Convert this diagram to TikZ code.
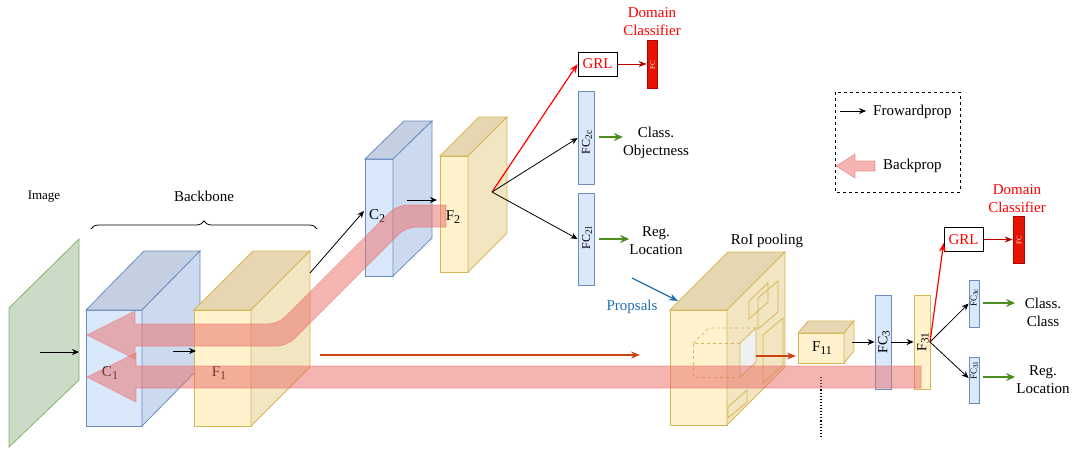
\documentclass[tikz,border=0pt]{standalone}
\usepackage{fontspec}
\setmainfont{Liberation Serif}
\usetikzlibrary{arrows.meta,decorations.pathreplacing,calc}
\definecolor{bfront}{HTML}{DAE8FC}
\definecolor{btop}{HTML}{C4D0E2}
\definecolor{bside}{HTML}{CCDAF0}
\definecolor{bstroke}{HTML}{6C8EBF}
\definecolor{yfront}{HTML}{FFF2CC}
\definecolor{ytop}{HTML}{E6D7B2}
\definecolor{yside}{HTML}{F2E5C1}
\definecolor{ystroke}{HTML}{D6B656}
\definecolor{gfill}{HTML}{CADCC7}
\definecolor{gstroke}{HTML}{82B366}
\definecolor{bandc}{HTML}{EA6B66}
\definecolor{garrow}{HTML}{4D8C1F}
\definecolor{oarrow}{HTML}{CC4414}
\definecolor{parrow}{HTML}{1F6FB2}
\definecolor{fcred}{HTML}{E51400}
\definecolor{fcredst}{HTML}{B20000}
\newcommand\sbs[1]{\raisebox{-0.35ex}{\scalebox{0.8}{#1}}}
\tikzset{
 lbl/.style={font=\fontsize{15}{18}\selectfont, inner sep=0pt, align=center},
 fwd/.style={-{Stealth[length=7pt,width=6pt]}, line width=0.8pt, black},
 grn/.style={-{Stealth[length=9pt,width=8pt]}, line width=1.2pt, garrow},
 redarr/.style={-{Stealth[length=9pt,width=7pt]}, line width=1.2pt, red},
 darkred/.style={-{Stealth[length=8pt,width=6pt]}, line width=0.9pt, fcredst},
 orarr/.style={-{Stealth[length=9pt,width=7pt]}, line width=1.2pt, oarrow},
 band/.style={fill=bandc, fill opacity=0.5, draw=bandc, draw opacity=0.6, line width=0.6pt},
 cbfront/.style={fill=bfront, draw=bstroke, line width=0.8pt},
 cbtop/.style={fill=btop, draw=bstroke, line width=0.8pt},
 cbside/.style={fill=bside, draw=bstroke, line width=0.8pt},
 cyfront/.style={fill=yfront, draw=ystroke, line width=0.8pt},
 cytop/.style={fill=ytop, draw=ystroke, line width=0.8pt},
 cyside/.style={fill=yside, draw=ystroke, line width=0.8pt},
 bbar/.style={fill=bfront, draw=bstroke, line width=0.8pt, inner sep=0pt},
 ybar/.style={fill=yfront, draw=ystroke, line width=0.8pt, inner sep=0pt},
 rbar/.style={fill=fcred, draw=fcredst, line width=0.8pt, inner sep=0pt},
 grl/.style={draw=black, line width=0.8pt, fill=white, text=red, minimum width=39pt, minimum height=24pt, inner sep=0pt, font=\fontsize{15}{18}\selectfont},
}
\newcommand\mycube[7]{%
 \filldraw[#1front] (#2,#3) rectangle (#4,#5);
 \filldraw[#1top] (#2,#3) -- (#2+#6,#3-#7) -- (#4+#6,#3-#7) -- (#4,#3) -- cycle;
 \filldraw[#1side] (#4,#3) -- (#4+#6,#3-#7) -- (#4+#6,#5-#7) -- (#4,#5) -- cycle;
}
\begin{document}
\begin{tikzpicture}[x=1pt,y=-1pt]
\useasboundingbox (0,0) rectangle (1075,448);

% image plane
\filldraw[fill=gfill, draw=gstroke, line width=0.8pt] (9,308) -- (79,239) -- (79,380) -- (9,447) -- cycle;
\node[lbl, font=\fontsize{13}{16}\selectfont] (imglbl) at (44,197) {Image};
\node[lbl] (bblbl) at (204,196) {Backbone};
\draw[decorate, decoration={brace, amplitude=8pt}, line width=0.8pt] (91,229) -- (317,229);

% cubes
\mycube{cb}{86}{310}{142}{426}{58}{59}
\mycube{cy}{194}{310}{251}{426}{59}{59}
\mycube{cb}{365}{159}{393}{276}{39}{38}
\mycube{cy}{440}{156}{468}{272}{39}{39}
\mycube{cy}{670}{310}{727}{425}{58}{58}

% RoI inner details
\draw[ystroke, line width=0.8pt] (749,301) -- (768,283) -- (768,302) -- (749,319) -- cycle;
\draw[ystroke, line width=0.8pt] (758,298) -- (778,281) -- (778,312) -- (758,329) -- cycle;
\draw[ystroke, line width=0.8pt] (763,335) -- (783,318) -- (783,365) -- (763,383) -- cycle;
\draw[ystroke, line width=0.8pt] (728,407) -- (747,390) -- (747,402) -- (728,418) -- cycle;
\draw[ystroke, line width=0.8pt, dashed] (740,343) -- (693,343) -- (693,377) -- (740,377);
\draw[ystroke, line width=0.8pt, dashed] (693,343) -- (709,328) -- (756,328);
\filldraw[fill=white!94!black, draw=ystroke, line width=0.8pt] (740,343) -- (756,328) -- (756,362) -- (740,377) -- cycle;

\mycube{cy}{798}{333}{844}{363}{10}{12}

% labels of cubes
\node[lbl] (c1) at (110,373) {C\sbs{1}};
\node[lbl] (f1) at (219,373) {F\sbs{1}};
\node[lbl] (c2) at (377,216) {C\sbs{2}};
\node[lbl] (f2) at (453,217) {F\sbs{2}};
\node[lbl] (f11) at (822,348) {F\sbs{11}};
\node[lbl] (roi) at (767,241) {RoI pooling};
\node[lbl, text=parrow] (prop) at (632,307) {Propsals};

% coordinates
\coordinate (imgA) at (40,352);
\coordinate (imgB) at (79,352);
\coordinate (c1A) at (173,351);
\coordinate (f1B) at (196,351);
\coordinate (f1out) at (310,273);
\coordinate (c2in) at (364,211);
\coordinate (c2A) at (407,200);
\coordinate (f2in) at (437,200);
\coordinate (fan2) at (492,192);
\coordinate (fan3) at (930,342);
\coordinate (longA) at (320,355);
\coordinate (longB) at (640,355);
\coordinate (roiA) at (756,356);
\coordinate (f11in) at (796,356);
\coordinate (f11out) at (852,342);
\coordinate (propA) at (632,278);
\coordinate (propB) at (678,301);
\coordinate (dotA) at (821,377);
\coordinate (dotB) at (821,436);

% bars
\node[bbar, minimum width=16pt, minimum height=93pt] (fc2c) at (586,137.5) {};
\node[bbar, minimum width=16pt, minimum height=92pt] (fc2l) at (586,239) {};
\node[rotate=90, inner sep=0pt, font=\fontsize{12}{14}\selectfont] at (587,142.5) {FC\sbs{2c}};
\node[rotate=90, inner sep=0pt, font=\fontsize{12}{14}\selectfont] at (587,238) {FC\sbs{2l}};

\node[bbar, minimum width=16pt, minimum height=94pt] (fc3) at (883,342) {};
\node[ybar, minimum width=16pt, minimum height=94pt] (f31) at (922,342) {};
\node[rotate=90, inner sep=0pt, font=\fontsize{14}{16}\selectfont] at (884,342) {FC\sbs{3}};
\node[rotate=90, inner sep=0pt, font=\fontsize{14}{16}\selectfont] at (923,342) {F\sbs{31}};

\node[bbar, minimum width=10pt, minimum height=47pt] (fc3c) at (974,303.5) {};
\node[bbar, minimum width=10pt, minimum height=46pt] (fc3l) at (974,380) {};
\node[rotate=90, inner sep=0pt, font=\fontsize{9}{11}\selectfont] at (974.5,298) {FC\sbs{3c}};
\node[rotate=90, inner sep=0pt, font=\fontsize{9}{11}\selectfont] at (974.5,371) {FC\sbs{3l}};

% domain classifiers
\node[grl] (grl1) at (597.5,64) {GRL};
\node[rbar, minimum width=10pt, minimum height=48pt] (dfc1) at (652,64) {};
\node[rotate=90, text=white, inner sep=0pt, font=\fontsize{7}{8}\selectfont] at (652.5,65) {FC};
\node[lbl, text=red] (dc1) at (652,22) {Domain\\Classifier};

\node[grl] (grl2) at (963.5,239.5) {GRL};
\node[rbar, minimum width=11pt, minimum height=47pt] (dfc2) at (1018.5,239.5) {};
\node[rotate=90, text=white, inner sep=0pt, font=\fontsize{7}{8}\selectfont] at (1019,240) {FC};
\node[lbl, text=red] (dc2) at (1017,199) {Domain\\Classifier};

% output labels
\node[lbl] (obj) at (656,143) {Class.\\Objectness};
\node[lbl] (loc2) at (656,241) {Reg.\\Location};
\node[lbl] (cls3) at (1043,312) {Class.\\Class};
\node[lbl] (loc3) at (1043,380) {Reg.\\Location};

% forward arrows
\draw[fwd] (imgA) -- (imgB);
\draw[fwd] (c1A) -- (f1B);
\draw[fwd] (f1out) -- (c2in);
\draw[fwd] (c2A) -- (f2in);
\draw[redarr] (fan2) -- (grl1.west);
\draw[fwd] (fan2) -- (fc2c.west |- 0,138);
\draw[fwd] (fan2) -- (fc2l.west |- 0,239);
\draw[darkred] (grl1.east) -- (dfc1.west);
\draw[grn] (599,137) -- (obj.west |- 0,137);
\draw[grn] (599,239) -- (loc2.west |- 0,239);
\draw[orarr] (longA) -- (longB);
\draw[orarr] (roiA) -- (f11in);
\draw[-{Stealth[length=9pt,width=7pt]}, line width=1.2pt, parrow] (propA) -- (propB);
\draw[line width=1.1pt, dotted] (dotA) -- (dotB);
\draw[fwd] (f11out) -- (fc3.west);
\draw[fwd] (fc3.east) -- (f31.west);
\draw[redarr] (fan3) -- (grl2.west |- 0,243);
\draw[fwd] (fan3) -- (fc3c.west);
\draw[fwd] (fan3) -- (fc3l.west |- 0,378);
\draw[darkred] (grl2.east) -- (dfc2.west);
\draw[grn] (983,303) -- (1015,303);
\draw[grn] (983,377) -- (1015,377);

% backprop bands
\path[band] (446,205) [rounded corners=10pt] -- (397,205) -- (278,324) -- (220,324) [sharp corners] -- (135,324) -- (135,311) -- (87,335) -- (135,359) -- (135,346) -- (220,346) [rounded corners=10pt] -- (287,346) -- (406,227) -- (420,227) [sharp corners] -- (446,227) -- cycle;
\path[band] (921,366) -- (136,366) -- (136,353) -- (87,377) -- (136,402) -- (136,388) -- (921,388) -- cycle;

% legend
\draw[dashed, line width=0.7pt] (835,92) rectangle (960,192);
\coordinate (lgA) at (840,111);
\coordinate (lgB) at (866,111);
\draw[fwd] (lgA) -- (lgB);
\node[lbl, anchor=west] (lgf) at (873,112) {Frowardprop};
\path[band] (875,161) -- (855,161) -- (855,154) -- (836,166) -- (855,178) -- (855,171) -- (875,171) -- cycle;
\node[lbl, anchor=west] (lgb) at (883,166) {Backprop};
\end{tikzpicture}
\end{document}
